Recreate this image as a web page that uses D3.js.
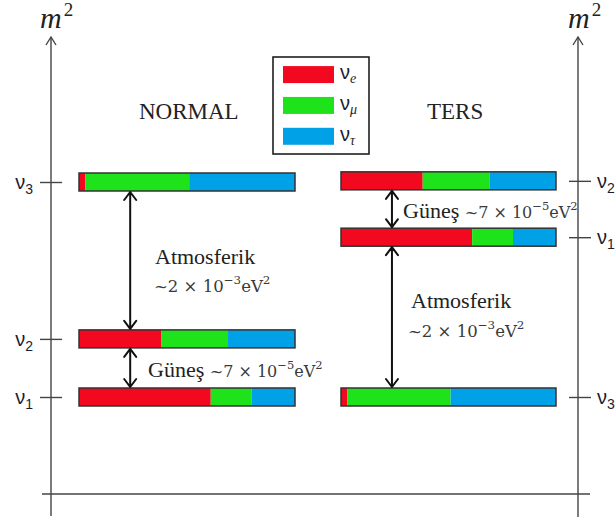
<!DOCTYPE html>
<html>
<head>
<meta charset="utf-8">
<script src="https://cdn.jsdelivr.net/npm/d3@7"></script>
<style>
  body { margin: 0; background: #fff; }
  svg { display: block; }
</style>
</head>
<body>
<svg id="chart" width="616" height="523"></svg>
<script>
// ── Data ──
const states     = ['1', '2', '3'];          // mass eigenstates ν1, ν2, ν3
const normalM2   = [0, 1, 3.7];              // schematic m² levels (not to scale)
const invertedM2 = [2.75, 3.72, 0];
const fracE      = [0.61, 0.38, 0.03];       // flavour content of each state
const fracMu     = [0.19, 0.31, 0.48];
const fracTau    = [0.20, 0.31, 0.49];
const flavors      = ['e', 'μ', 'τ'];
const flavorKeys   = ['e', 'mu', 'tau'];
const flavorColors = ['#f2081f', '#1ee31a', '#00a1e6'];
const orderings  = ['NORMAL', 'TERS'];

const serif = '"Liberation Serif", "Times New Roman", serif';
const mathF = '"DejaVu Serif", serif';
const sans  = '"Liberation Sans", Arial, sans-serif';
const ink   = '#222';

const svg = d3.select('#chart');

const y  = d3.scaleLinear().domain([0, 3.7]).range([397, 182]);
const xL = d3.scaleLinear().domain([0, 1]).range([79, 295]);
const xR = d3.scaleLinear().domain([0, 1]).range([341, 556]);
const color = d3.scaleOrdinal().domain(flavorKeys).range(flavorColors);
const barH = 18;

const rows = states.map((s, i) => ({ state: s, e: fracE[i], mu: fracMu[i], tau: fracTau[i] }));
const stacked = d3.stack().keys(flavorKeys)(rows);

// ── Frame: vertical m² axes and baseline ──
const axisCol = '#444';
[[51, 516], [578, 517]].forEach(([ax, bottom]) => {
  svg.append('line')
    .attr('x1', ax).attr('x2', ax).attr('y1', 37).attr('y2', bottom)
    .attr('stroke', axisCol).attr('stroke-width', 1.4);
  svg.append('path')
    .attr('d', `M${ax - 5},45 L${ax},37 L${ax + 5},45`)
    .attr('fill', 'none').attr('stroke', axisCol).attr('stroke-width', 1.4);
});
svg.append('line')
  .attr('x1', 42).attr('x2', 590).attr('y1', 494).attr('y2', 494)
  .attr('stroke', axisCol).attr('stroke-width', 1.4);

// m² labels
[40, 568].forEach(mx => {
  const t = svg.append('text').attr('x', mx).attr('y', 28)
    .attr('font-family', serif).attr('fill', ink);
  t.append('tspan').attr('font-size', 30).attr('font-style', 'italic').text('m');
  t.append('tspan').attr('font-size', 19).attr('dx', 2).attr('dy', -12).text('2');
});

// ── Level ticks with ν labels ──
function nuLabels(sel) {
  sel.select('.domain').remove();
  sel.selectAll('line').attr('stroke', axisCol).attr('stroke-width', 1.4);
  sel.selectAll('text').each(function() {
    const t = d3.select(this);
    const sub = t.text();
    t.text('').attr('fill', '#1c1c30').attr('font-family', sans).attr('font-size', 20);
    t.append('tspan').text('ν');
    t.append('tspan').attr('font-size', 14).attr('dy', 5).text(sub);
  });
}

svg.append('g')
  .attr('transform', 'translate(62,0)')
  .call(d3.axisLeft(y).tickValues(normalM2).tickSize(22).tickPadding(7)
    .tickFormat((d, i) => states[i]))
  .call(nuLabels);

svg.append('g')
  .attr('transform', 'translate(569,0)')
  .call(d3.axisRight(y).tickValues(invertedM2).tickSize(22).tickPadding(6)
    .tickFormat((d, i) => states[i]))
  .call(nuLabels);

// ── Bars ──
function drawBars(x, levels) {
  const g = svg.append('g');
  stacked.forEach(series => {
    g.selectAll(null)
      .data(series)
      .enter()
      .append('rect')
      .attr('x', d => x(d[0]))
      .attr('width', d => x(d[1]) - x(d[0]))
      .attr('y', (d, i) => y(levels[i]) - barH / 2)
      .attr('height', barH)
      .attr('fill', color(series.key));
  });
  g.selectAll('.outline')
    .data(levels)
    .enter()
    .append('rect')
    .attr('x', x(0)).attr('width', x(1) - x(0))
    .attr('y', d => y(d) - barH / 2).attr('height', barH)
    .attr('fill', 'none').attr('stroke', '#333').attr('stroke-width', 1.5);
}
drawBars(xL, normalM2);
drawBars(xR, invertedM2);

// ── Double arrows ──
function dblArrow(x, yTop, yBot) {
  svg.append('path')
    .attr('d', `M${x},${yTop} L${x},${yBot}` +
      `M${x - 6},${yTop + 8} L${x},${yTop} L${x + 6},${yTop + 8}` +
      `M${x - 6},${yBot - 8} L${x},${yBot} L${x + 6},${yBot - 8}`)
    .attr('fill', 'none').attr('stroke', '#111').attr('stroke-width', 2)
    .attr('stroke-linecap', 'round').attr('stroke-linejoin', 'round');
}
const gap = barH / 2 + 1;
dblArrow(xL(0.237), y(normalM2[2]) + gap, y(normalM2[1]) - gap);
dblArrow(xL(0.237), y(normalM2[1]) + gap, y(normalM2[0]) - gap);
dblArrow(xR(0.237), y(invertedM2[1]) + gap, y(invertedM2[0]) - gap);
dblArrow(xR(0.237), y(invertedM2[0]) + gap, y(invertedM2[2]) - gap);

// ── Annotations ──
function richText(x, yy, pieces) {
  const t = svg.append('text').attr('x', x).attr('y', yy).attr('fill', ink);
  let shift = 0;
  pieces.forEach(p => {
    const target = p.sup ? -p.size * 0.5 : 0;
    t.append('tspan')
      .attr('dy', target - shift)
      .attr('font-family', p.font || mathF)
      .attr('fill', p.font ? ink : '#3a3a3a')
      .attr('font-size', p.sup ? p.size * 0.72 : p.size)
      .text(p.s);
    shift = target;
  });
  return t;
}
const gapText = (coef, exp, size) => [
  { s: '~' + coef + ' × 10', size },
  { s: exp, size, sup: true },
  { s: 'eV', size },
  { s: '2', size, sup: true }
];

richText(155, 264, [{ s: 'Atmosferik', size: 22, font: serif }]);
richText(154, 292, gapText('2', '−3', 16.5));
richText(148, 377, [{ s: 'Güneş ', size: 22, font: serif }].concat(gapText('7', '−5', 16)));

richText(403, 218, [{ s: 'Güneş ', size: 22, font: serif }].concat(gapText('7', '−5', 16)));
richText(411, 308, [{ s: 'Atmosferik', size: 22, font: serif }]);
richText(408, 337, gapText('2', '−3', 16.5));

// Titles
svg.selectAll('.title')
  .data(orderings)
  .enter()
  .append('text')
  .attr('x', (d, i) => i === 0 ? 139 : 427)
  .attr('y', 119)
  .attr('font-family', serif).attr('font-size', 23).attr('fill', ink)
  .text(d => d);

// ── Legend ──
const legend = svg.append('g');
legend.append('rect')
  .attr('x', 273).attr('y', 57).attr('width', 96).attr('height', 97)
  .attr('fill', '#fff').attr('stroke', '#111').attr('stroke-width', 1.5);
const ly = d3.scaleBand().domain(flavors).range([63, 150]).paddingInner(0.38).paddingOuter(0.1);
legend.selectAll('.sw')
  .data(flavors)
  .enter()
  .append('rect')
  .attr('x', 283).attr('width', 51)
  .attr('y', d => ly(d)).attr('height', 17)
  .attr('fill', (d, i) => flavorColors[i]);
legend.selectAll('.lab')
  .data(flavors)
  .enter()
  .append('text')
  .attr('x', 340).attr('y', d => ly(d) + 13)
  .attr('fill', '#1c1c30')
  .each(function(d) {
    const t = d3.select(this);
    t.append('tspan').attr('font-family', sans).attr('font-size', 20).text('ν');
    t.append('tspan').attr('font-family', serif).attr('font-style', 'italic')
      .attr('font-size', 14).attr('dy', 4).text(d);
  });
</script>
</body>
</html>
